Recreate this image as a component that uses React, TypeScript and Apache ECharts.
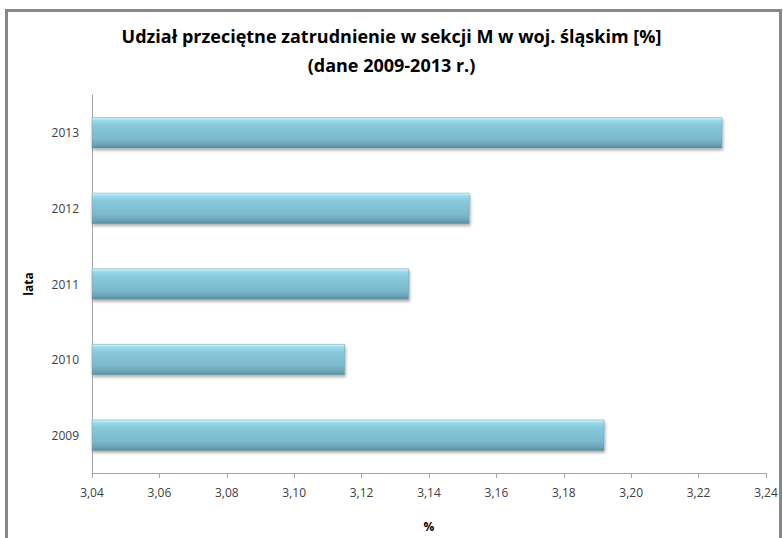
import React, { useEffect, useRef } from "react";
import * as echarts from "echarts";

const years = ["2009", "2010", "2011", "2012", "2013"];
const shares = [3.192, 3.115, 3.134, 3.152, 3.227];
const xTicks = { min: 3.04, max: 3.24, interval: 0.02 };
const titleText = "Udział przeciętne zatrudnienie w sekcji M w woj. śląskim [%]\n(dane 2009-2013 r.)";
const yAxisName = "lata";
const xAxisName = "%";

export default function App() {
  const ref = useRef<HTMLDivElement>(null);
  useEffect(() => {
    document.body.style.margin = "0";
    const chart = echarts.init(ref.current!, null, { renderer: "svg" });
    const font = "'Open Sans', 'Noto Sans', sans-serif";
    chart.setOption({
      animation: false,
      backgroundColor: "#ffffff",
      title: {
        text: titleText,
        left: "center",
        top: 16,
        textStyle: {
          fontFamily: font,
          fontWeight: "bold",
          fontSize: 18,
          lineHeight: 29,
          color: "#000000",
        },
      },
      graphic: [
        {
          type: "rect",
          shape: { x: 6.5, y: 10.5, width: 774, height: 600 },
          style: { fill: "none", stroke: "#878787", lineWidth: 3 },
        },
      ],
      grid: { left: 92, right: 17, top: 95, bottom: 65 },
      xAxis: {
        type: "value",
        min: xTicks.min,
        max: xTicks.max,
        interval: xTicks.interval,
        name: xAxisName,
        nameLocation: "middle",
        nameGap: 47,
        nameTextStyle: { fontFamily: font, fontWeight: "bold", fontSize: 12, color: "#000" },
        axisLine: { show: true, lineStyle: { color: "#a6a6a6" } },
        axisTick: { show: true, length: 5, lineStyle: { color: "#a6a6a6" } },
        splitLine: { show: false },
        axisLabel: {
          fontFamily: font,
          fontSize: 12,
          color: "#404040",
          margin: 13,
          formatter: (v: number) => v.toFixed(2).replace(".", ","),
        },
      },
      yAxis: {
        type: "category",
        data: years,
        name: yAxisName,
        nameLocation: "middle",
        nameGap: 58,
        nameRotate: 90,
        nameTextStyle: { fontFamily: font, fontWeight: "bold", fontSize: 12, color: "#000" },
        axisLine: { show: true, lineStyle: { color: "#a6a6a6" } },
        axisTick: { show: false },
        axisLabel: { fontFamily: font, fontSize: 12, color: "#404040", margin: 13 },
      },
      series: [
        {
          type: "bar",
          data: shares,
          barWidth: 31,
          itemStyle: {
            color: new echarts.graphic.LinearGradient(0, 0, 0, 1, [
              { offset: 0, color: "#d4f6fc" },
              { offset: 0.1, color: "#9adaed" },
              { offset: 0.25, color: "#88c9dc" },
              { offset: 0.7, color: "#7cb9cc" },
              { offset: 0.9, color: "#6aa2b4" },
              { offset: 1, color: "#56889a" },
            ]),
            borderColor: "#6a9eae",
            borderWidth: 0.5,
            shadowBlur: 3,
            shadowColor: "rgba(0,0,0,0.35)",
            shadowOffsetY: 2,
            shadowOffsetX: 1,
          },
        },
      ],
    });
    return () => chart.dispose();
  }, []);
  return <div ref={ref} style={{ width: 783, height: 538 }} />;
}
